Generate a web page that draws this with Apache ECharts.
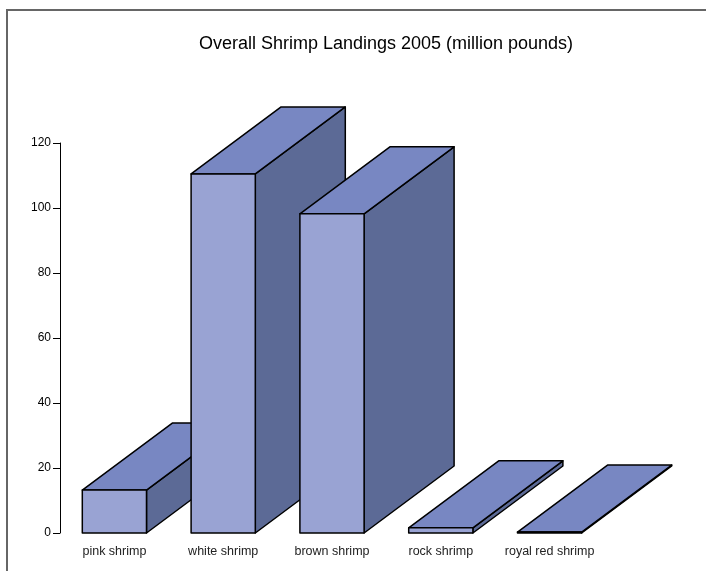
<!DOCTYPE html>
<html>
<head>
<meta charset="utf-8">
<script src="https://cdn.jsdelivr.net/npm/echarts@6/dist/echarts.min.js"></script>
<style>html,body{margin:0;padding:0;background:#fff}#c{width:706px;height:571px}</style>
</head>
<body>
<div id="c"></div>
<script>
var categories = ['pink shrimp', 'white shrimp', 'brown shrimp', 'rock shrimp', 'royal red shrimp'];
var landings = [13.2, 110.5, 98.2, 1.6, 0.3];
var yTicks = [0, 20, 40, 60, 80, 100, 120];

var chart = echarts.init(document.getElementById('c'));
var DX = 90, DY = -67;
function renderItem(params, api) {
  var idx = api.value(0), v = api.value(1);
  var top = api.coord([idx, v]);
  var base = api.coord([idx, 0]);
  var w = api.size([1, 0])[0] * 0.59;
  var x0 = top[0] - w / 2, x1 = top[0] + w / 2;
  var yt = top[1], yb = base[1];
  var st = {stroke: '#000', lineWidth: 1.5, lineJoin: 'round'};
  return {
    type: 'group',
    children: [
      {type: 'polygon', shape: {points: [[x1, yb], [x1 + DX, yb + DY], [x1 + DX, yt + DY], [x1, yt]]},
       style: Object.assign({fill: '#5C6A96'}, st)},
      {type: 'polygon', shape: {points: [[x0, yt], [x0 + DX, yt + DY], [x1 + DX, yt + DY], [x1, yt]]},
       style: Object.assign({fill: '#7887C2'}, st)},
      {type: 'rect', shape: {x: x0, y: yt, width: w, height: yb - yt},
       style: Object.assign({fill: '#99A3D3'}, st)}
    ]
  };
}
chart.setOption({
  animation: false,
  title: {
    text: 'Overall Shrimp Landings 2005 (million pounds)',
    left: 381, textAlign: 'center', top: 30,
    textStyle: {fontFamily: 'Liberation Sans', fontWeight: 'normal', fontSize: 18, color: '#000'}
  },
  grid: {left: 60, right: 102, top: 143, bottom: 38},
  xAxis: {
    type: 'category', data: categories,
    axisLine: {show: false}, axisTick: {show: false},
    axisLabel: {interval: 0, hideOverlap: false, fontFamily: 'Liberation Sans', fontSize: 12.5, color: '#222', margin: 12}
  },
  yAxis: {
    type: 'value', min: yTicks[0], max: yTicks[yTicks.length - 1], interval: 20,
    axisLine: {show: true, lineStyle: {color: '#000', width: 1}},
    axisTick: {show: true, length: 7, lineStyle: {color: '#000'}},
    splitLine: {show: false},
    axisLabel: {fontFamily: 'Liberation Sans', fontSize: 12, color: '#000', margin: 9}
  },
  graphic: [
    {type: 'line', shape: {x1: 6, y1: 10, x2: 706, y2: 10}, style: {stroke: '#666', lineWidth: 2}},
    {type: 'line', shape: {x1: 7, y1: 10, x2: 7, y2: 571}, style: {stroke: '#666', lineWidth: 2}}
  ],
  series: [{
    type: 'custom', renderItem: renderItem, clip: false,
    encode: {x: 0, y: 1},
    data: landings.map(function (v, i) { return [i, v]; })
  }]
});
</script>
</body>
</html>
